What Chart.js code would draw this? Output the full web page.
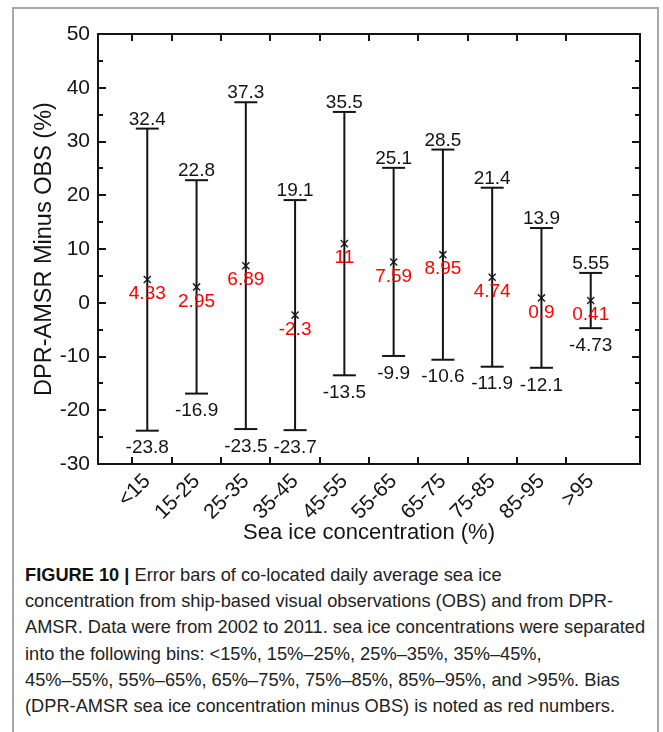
<!DOCTYPE html>
<html>
<head>
<meta charset="utf-8">
<script src="https://cdn.jsdelivr.net/npm/chart.js@4.4.1/dist/chart.umd.min.js"></script>
<style>
  html, body { margin: 0; padding: 0; background: #fff; }
  body { width: 663px; height: 732px; position: relative; overflow: hidden; }
  #wrap { position: absolute; left: 0; top: 0; width: 663px; height: 560px; }
  #frame { position: absolute; left: 12px; top: 7px; width: 643px; height: 760px;
           border: 2px solid #a8a8a8; border-bottom: none; }
  #caption { position: absolute; left: 25px; top: 562px; width: 680px;
             font-family: "Liberation Sans", Arial, sans-serif;
             font-size: 19px; line-height: 26.2px; color: #222; white-space: nowrap;
             transform: scaleX(0.96); transform-origin: left top; }
  #caption b { color: #111; }
</style>
</head>
<body>
<div id="frame"></div>
<div id="wrap"><canvas id="chart"></canvas></div>
<div id="caption">
  <b>FIGURE 10 |</b> Error bars of co-located daily average sea ice<br>
  concentration from ship-based visual observations (OBS) and from DPR-<br>
  AMSR. Data were from 2002 to 2011. sea ice concentrations were separated<br>
  into the following bins: &lt;15%, 15%–25%, 25%–35%, 35%–45%,<br>
  45%–55%, 55%–65%, 65%–75%, 75%–85%, 85%–95%, and &gt;95%. Bias<br>
  (DPR-AMSR sea ice concentration minus OBS) is noted as red numbers.
</div>
<script>
// ─── DATA ─────────────────────────────────────────────────────────────────────
const categories = ['<15', '15-25', '25-35', '35-45', '45-55', '55-65', '65-75', '75-85', '85-95', '>95'];
const upper = [32.4, 22.8, 37.3, 19.1, 35.5, 25.1, 28.5, 21.4, 13.9, 5.55];
const lower = [-23.8, -16.9, -23.5, -23.7, -13.5, -9.9, -10.6, -11.9, -12.1, -4.73];
const bias = [4.33, 2.95, 6.89, -2.3, 11, 7.59, 8.95, 4.74, 0.9, 0.41];
const yTicks = [-30, -20, -10, 0, 10, 20, 30, 40, 50];
// tick marks on the category axis sit between the bins
const xTickMarks = [0.7, 1.5, 2.5, 3.5, 4.5, 5.5, 6.5, 7.5, 8.5, 9.5];

const FONT = '"Liberation Sans", Arial, Helvetica, sans-serif';
const INK = '#141414';

// error bar segments: lower -> upper, then a gap
const rangePoints = [];
categories.forEach((c, i) => {
  rangePoints.push({ x: i + 1, y: lower[i] });
  rangePoints.push({ x: i + 1, y: upper[i] });
  rangePoints.push({ x: i + 1, y: null });
});
const biasPoints = bias.map((v, i) => ({ x: i + 1, y: v }));

// ─── PLUGINS ──────────────────────────────────────────────────────────────────
// box around the plot plus inward ticks on all four sides
const framePlugin = {
  id: 'frame',
  afterDraw(chart) {
    const { ctx, chartArea: a, scales: { x, y } } = chart;
    ctx.save();
    ctx.strokeStyle = INK;
    ctx.lineWidth = 2;
    ctx.strokeRect(a.left, a.top, a.right - a.left, a.bottom - a.top);
    ctx.beginPath();
    for (let v = yTicks[0] + 5; v < yTicks[yTicks.length - 1]; v += 5) {
      const py = Math.round(y.getPixelForValue(v));
      const len = v % 10 === 0 ? 8 : 5;
      ctx.moveTo(a.left, py); ctx.lineTo(a.left + len, py);
      ctx.moveTo(a.right, py); ctx.lineTo(a.right - len, py);
    }
    xTickMarks.forEach(v => {
      const px = Math.round(x.getPixelForValue(v));
      ctx.moveTo(px, a.bottom); ctx.lineTo(px, a.bottom - 7);
      ctx.moveTo(px, a.top); ctx.lineTo(px, a.top + 7);
    });
    ctx.stroke();
    ctx.restore();
  }
};

// numbers above/below the caps (black) and the bias under the marker (red)
const labelPlugin = {
  id: 'labels',
  afterDatasetsDraw(chart) {
    const { ctx, scales: { x, y } } = chart;
    ctx.save();
    ctx.font = '19px ' + FONT;
    ctx.textAlign = 'center';
    categories.forEach((c, i) => {
      const px = x.getPixelForValue(i + 1);
      ctx.fillStyle = INK;
      ctx.textBaseline = 'alphabetic';
      ctx.fillText(String(upper[i]), px, y.getPixelForValue(upper[i]) - 4);
      ctx.textBaseline = 'top';
      ctx.fillText(String(lower[i]), px, y.getPixelForValue(lower[i]) + 8);
      ctx.fillStyle = '#ff0000';
      ctx.fillText(String(bias[i]), px, y.getPixelForValue(bias[i]) + 5);
    });
    ctx.restore();
  }
};

// ─── CHART ────────────────────────────────────────────────────────────────────
new Chart(document.getElementById('chart').getContext('2d'), {
  type: 'line',
  data: {
    datasets: [
      {
        data: rangePoints,
        borderColor: INK,
        borderWidth: 2,
        spanGaps: false,
        pointStyle: 'line',
        pointRadius: 11.5,
        pointBorderWidth: 2,
        pointBorderColor: INK,
        pointHoverRadius: 11.5
      },
      {
        data: biasPoints,
        showLine: false,
        pointStyle: 'crossRot',
        pointRadius: 5,
        pointBorderWidth: 1.5,
        pointBorderColor: '#222',
        pointHoverRadius: 5
      }
    ]
  },
  options: {
    responsive: true,
    maintainAspectRatio: false,
    animation: false,
    events: [],
    layout: { padding: { left: 27, top: 34, right: 23, bottom: 14 } },
    plugins: { legend: { display: false }, tooltip: { enabled: false } },
    scales: {
      x: {
        type: 'linear',
        min: 0,
        max: 11,
        afterBuildTicks: s => { s.ticks = categories.map((c, i) => ({ value: i + 1 })); },
        afterFit: s => { s.height = 82; },
        grid: { display: false, drawTicks: false },
        border: { display: false },
        ticks: {
          autoSkip: false,
          minRotation: 45,
          maxRotation: 45,
          padding: 5,
          color: INK,
          font: { family: FONT, size: 21 },
          callback: v => categories[v - 1]
        },
        title: {
          display: true,
          text: 'Sea ice concentration (%)',
          color: INK,
          font: { family: FONT, size: 22 },
          padding: { top: 0, bottom: 0 }
        }
      },
      y: {
        min: -30,
        max: 50,
        afterBuildTicks: s => { s.ticks = yTicks.map(v => ({ value: v })); },
        afterFit: s => { s.width = 71; },
        grid: { display: false, drawTicks: false },
        border: { display: false },
        ticks: {
          padding: 8,
          color: INK,
          font: { family: FONT, size: 21 }
        },
        title: {
          display: true,
          text: 'DPR-AMSR Minus OBS (%)',
          color: INK,
          font: { family: FONT, size: 23.5 },
          padding: { top: 3, bottom: 0 }
        }
      }
    }
  },
  plugins: [framePlugin, labelPlugin]
});
</script>
</body>
</html>
